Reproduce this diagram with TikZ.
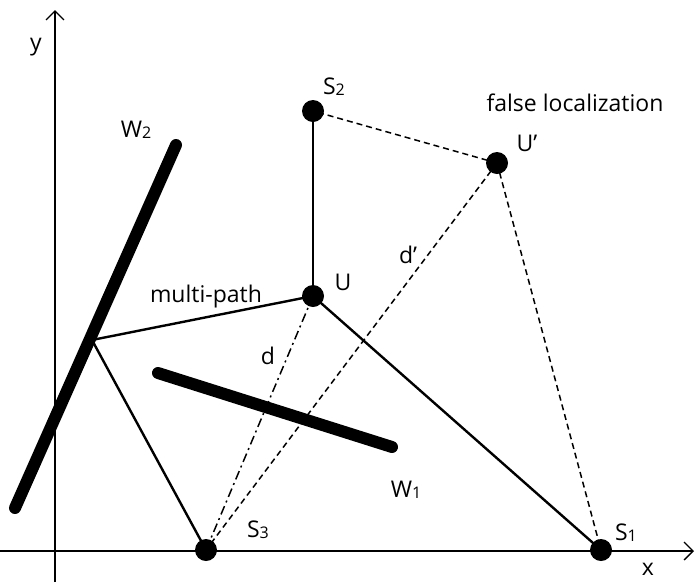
\documentclass[tikz,border=0pt]{standalone}
\usepackage{fontspec}
\setmainfont{Open Sans}
\usetikzlibrary{arrows.meta}
\newcommand{\sub}[1]{\lower0.1ex\hbox{\fontsize{16}{18}\selectfont #1}}
\begin{document}
\begin{tikzpicture}[x=1pt,y=-1pt,
  dot/.style={circle,fill=black,inner sep=0pt,minimum size=22pt},
  lbl/.style={inner sep=0pt,font=\fontsize{23}{27}\selectfont},
  wall/.style={line width=12pt,line cap=round},
  ray/.style={line width=2.4pt},
  ghost/.style={line width=1.5pt,dash pattern=on 6pt off 4pt},
  truth/.style={line width=1.5pt,dash pattern=on 9pt off 4pt on 2pt off 4pt},
  axis/.style={line width=1.3pt,-{Straight Barb[length=9pt,width=18pt]}}]
\useasboundingbox (0,0) rectangle (696,582);
% axes
\coordinate (xa0) at (0,551);
\coordinate (xa1) at (694,551);
\coordinate (ya0) at (55,582);
\coordinate (ya1) at (55,10);
\draw[axis] (xa0) -- (xa1);
\draw[axis] (ya0) -- (ya1);
% points
\node[dot] (S2) at (313,111) {};
\node[dot] (Up) at (497,163) {};
\node[dot] (U) at (313,296) {};
\node[dot] (S3) at (206,550) {};
\node[dot] (S1) at (601,550) {};
% walls
\coordinate (w2a) at (176,145);
\coordinate (w2b) at (15,508);
\coordinate (w1a) at (158,373);
\coordinate (w1b) at (392,447);
\coordinate (R) at (92,340);
\draw[wall] (w2a) -- (w2b);
\draw[wall] (w1a) -- (w1b);
% rays
\draw[ray] (U.center) -- (S2.center);
\draw[ray] (U.center) -- (R) -- (S3.center);
\draw[ray] (U.center) -- (S1.center);
\draw[truth] (U.center) -- (S3.center);
\draw[ghost] (Up.center) -- (S3.center);
\draw[ghost] (Up.center) -- (S2.center);
\draw[ghost] (Up.center) -- (S1.center);
% labels
\node[lbl] (ly) at (36,47) {y};
\node[lbl] (lx) at (648,569) {x};
\node[lbl] (lW2) at (136,130) {W\sub{2}};
\node[lbl] (lS2) at (334,87) {S\sub{2}};
\node[lbl] (lfl) at (575,103) {false localization};
\node[lbl] (lUp) at (527,143) {U’};
\node[lbl] (lU) at (343,282) {U};
\node[lbl] (lmp) at (206,297) {multi-path};
\node[lbl] (ldp) at (408,255) {d’};
\node[lbl] (ld) at (268,356) {d};
\node[lbl] (lW1) at (406,490) {W\sub{1}};
\node[lbl] (lS3) at (258,530) {S\sub{3}};
\node[lbl] (lS1) at (626,533) {S\sub{1}};
\end{tikzpicture}
\end{document}
